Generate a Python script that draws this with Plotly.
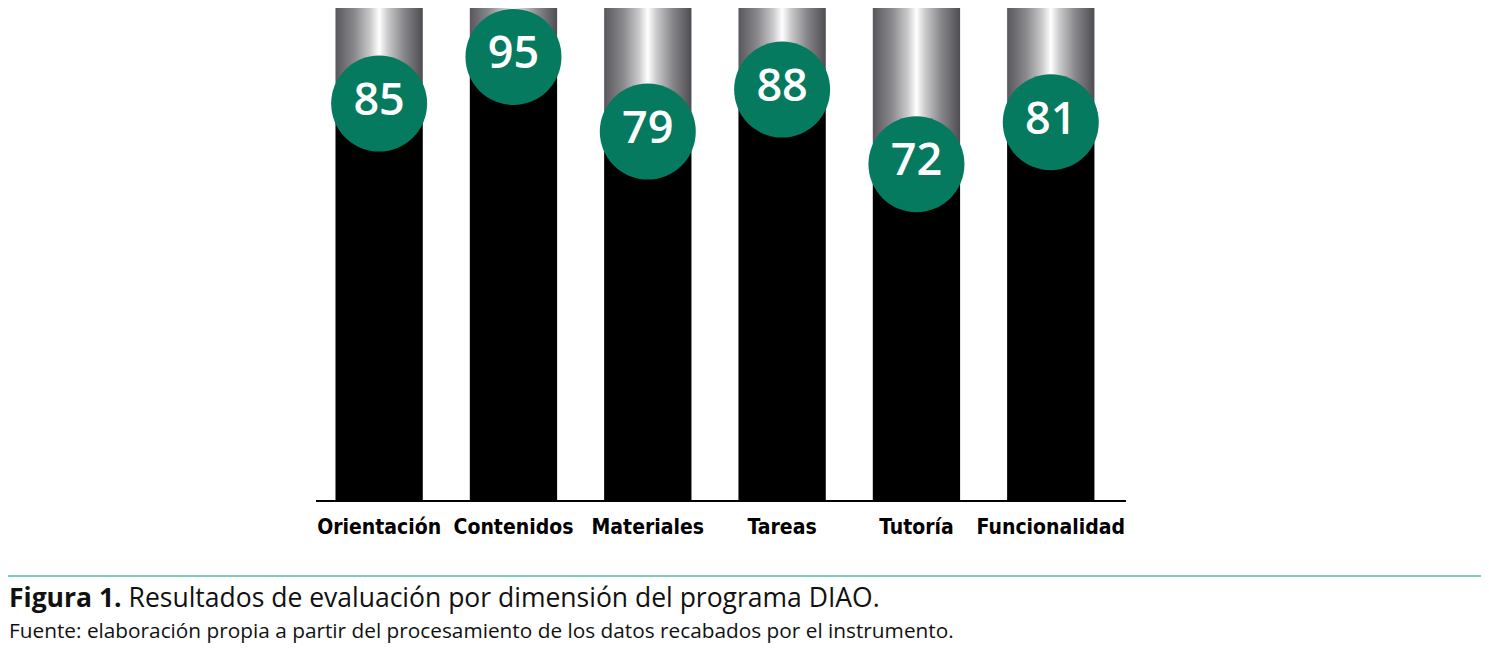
import plotly.graph_objects as go

# ==========================
# Data
# ==========================

categories = ["Orientación", "Contenidos", "Materiales", "Tareas", "Tutoría", "Funcionalidad"]

scores = [85, 95, 79, 88, 72, 81]

caption_title = "Figura 1."
caption_text = "Resultados de evaluación por dimensión del programa DIAO."
caption_source = "Fuente: elaboración propia a partir del procesamiento de los datos recabados por el instrumento."

# ==========================
# Geometry / style
# ==========================

# the page body has an 8px margin, so the figure is drawn a bit smaller
OFF = 8
W, H = 1489 - OFF, 657 - OFF
M_L, M_T = 316 - OFF, 8 - OFF
PLOT_W, PLOT_H = 810, 492
M_R = W - M_L - PLOT_W
M_B = H - M_T - PLOT_H

Y_MAX = 105.5
BAR_W = 0.65

GREEN = "#057a5f"
TEAL = "#7ccdbf"

metal = [
    [0.0, "#58585c"],
    [0.22, "#8a8a8e"],
    [0.40, "#cacacc"],
    [0.50, "#ffffff"],
    [0.60, "#cacacc"],
    [0.78, "#88888c"],
    [1.0, "#4e4e52"],
]


def px_x(px):
    return (px - OFF - M_L) / PLOT_W


def px_y(py):
    return (M_T + PLOT_H - (py - OFF)) / PLOT_H


xs = list(range(len(categories)))

fig = go.Figure()

# ==========================
# Black lower part of each bar
# ==========================

fig.add_trace(
    go.Bar(
        x=xs,
        y=scores,
        width=BAR_W,
        marker=dict(color="#000000", line=dict(width=0)),
        hoverinfo="skip",
        showlegend=False
    )
)

# ==========================
# Metallic upper part (horizontal gradient)
# ==========================

for i, v in zip(xs, scores):

    x0 = i - BAR_W / 2
    x1 = i + BAR_W / 2

    fig.add_trace(
        go.Scatter(
            x=[x0, x1, x1, x0, x0],
            y=[v, v, Y_MAX, Y_MAX, v],
            mode="lines",
            line=dict(width=0),
            fill="toself",
            fillgradient=dict(
                type="horizontal",
                colorscale=metal,
                start=x0,
                stop=x1
            ),
            hoverinfo="skip",
            showlegend=False
        )
    )

# ==========================
# Score circles
# ==========================

fig.add_trace(
    go.Scatter(
        x=xs,
        y=scores,
        mode="markers+text",
        marker=dict(size=96, color=GREEN, line=dict(width=0)),
        text=[str(v) for v in scores],
        textposition="middle center",
        textfont=dict(family="Open Sans", size=45, color="#ffffff", weight=600),
        cliponaxis=False,
        hoverinfo="skip",
        showlegend=False
    )
)

# ==========================
# Layout
# ==========================

fig.update_layout(
    width=W,
    height=H,
    margin=dict(l=M_L, r=M_R, t=M_T, b=M_B, pad=0),
    paper_bgcolor="#ffffff",
    plot_bgcolor="#ffffff",
    showlegend=False,
    xaxis=dict(
        range=[-0.47, 5.56],
        tickmode="array",
        tickvals=xs,
        ticktext=categories,
        tickangle=0,
        tickfont=dict(family="DejaVu Sans Condensed", size=21, color="#000000", weight="bold"),
        showgrid=False,
        zeroline=False,
        showline=True,
        linecolor="#000000",
        linewidth=2,
        ticks="",
        ticklabelstandoff=7,
        fixedrange=True
    ),
    yaxis=dict(
        range=[0, Y_MAX],
        visible=False,
        showgrid=False,
        zeroline=False,
        fixedrange=True
    )
)

# ==========================
# Caption
# ==========================

fig.add_shape(
    type="line",
    xref="paper",
    yref="paper",
    x0=px_x(0),
    x1=px_x(1489),
    y0=px_y(576),
    y1=px_y(576),
    line=dict(color=TEAL, width=2)
)

fig.add_annotation(
    xref="paper",
    yref="paper",
    x=px_x(7),
    y=px_y(597),
    xanchor="left",
    yanchor="middle",
    showarrow=False,
    text="<b>" + caption_title + "</b> " + caption_text,
    font=dict(family="Open Sans", size=26.5, color="#111111")
)

fig.add_annotation(
    xref="paper",
    yref="paper",
    x=px_x(7),
    y=px_y(630),
    xanchor="left",
    yanchor="middle",
    showarrow=False,
    text=caption_source,
    font=dict(family="Open Sans", size=20.8, color="#111111")
)

fig.write_html("out.html", config={"displayModeBar": False})
